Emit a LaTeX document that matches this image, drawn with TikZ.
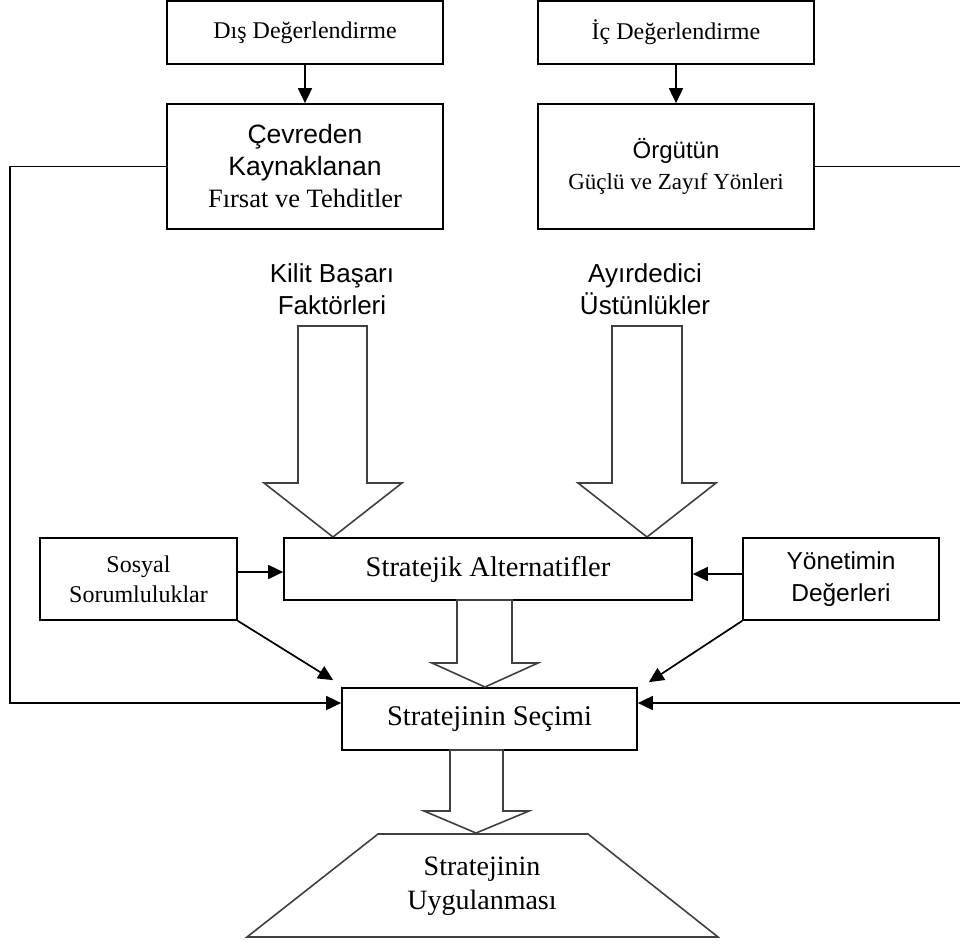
\documentclass[tikz,border=0pt]{standalone}
\usepackage{fontspec}
\setmainfont{Liberation Serif}
\setsansfont{Liberation Sans}
\usetikzlibrary{arrows.meta}

\begin{document}
\begin{tikzpicture}[x=1pt,y=-1pt,
  box/.style={draw,line width=1.7pt,inner sep=0pt,align=center},
  small/.style={font=\fontsize{24}{30}\selectfont},
  big/.style={font=\fontsize{28.5}{34}\selectfont},
  sans/.style={font=\sffamily\fontsize{26}{32}\selectfont},
  arr/.style={line width=1.7pt,-{Triangle[length=15pt,width=14pt]}},
  hollow/.style={line width=1.6pt,draw=black!75,line join=miter}]
\useasboundingbox (0,0) rectangle (960,945);
\clip (0,0) rectangle (960,945);
% ust kutular
\node[box,small,minimum width=276pt,minimum height=63pt] (dis) at (305,32.5) {Dış Değerlendirme};
\node[box,font=\fontsize{26.5}{32}\selectfont,minimum width=276pt,minimum height=125pt] (cevre) at (305,166.5) {\textsf{Çevreden}\\\textsf{Kaynaklanan}\\Fırsat ve Tehditler};
\node[box,small,minimum width=276pt,minimum height=63pt] (ic) at (676,32.5) {İç Değerlendirme};
\node[box,font=\fontsize{24}{31}\selectfont,minimum width=276pt,minimum height=125pt] (orgut) at (676,166.5) {\textsf{Örgütün}\\{\fontsize{23}{31}\selectfont Güçlü ve Zayıf Yönleri}};
\draw[arr] (dis)--(cevre);
\draw[arr] (ic)--(orgut);
% buyuk oklar
\node[sans,align=center] (kilit) at (332,289) {Kilit Başarı\\Faktörleri};
\node[sans,align=center] (ayir) at (645,289) {Ayırdedici\\Üstünlükler};
\draw[hollow] (298,326)--(367,326)--(367,483)--(402,483)--(333,537)--(264,483)--(298,483)--cycle;
\draw[hollow] (612,326)--(682,326)--(682,483)--(716,483)--(647,537)--(578,483)--(612,483)--cycle;
% orta
\node[box,big,minimum width=408pt,minimum height=62pt] (alt) at (488,569) {Stratejik Alternatifler};
\node[box,small,minimum width=197pt,minimum height=82pt] (sosyal) at (138.5,579) {Sosyal\\Sorumluluklar};
\node[box,sans,font=\sffamily\fontsize{24.5}{32}\selectfont,minimum width=196pt,minimum height=82pt] (yonetim) at (841,579) {Yönetimin\\Değerleri};
\node[box,big,minimum width=295pt,minimum height=62pt] (secim) at (489.5,719) {Stratejinin Seçimi};
\draw[arr] ([yshift=7pt]sosyal.east)--([yshift=-3pt]alt.west);
\draw[arr] ([yshift=5pt]yonetim.west)--([yshift=-5pt]alt.east);
\draw[arr] (sosyal.south east)--([xshift=-8pt,yshift=7pt]secim.north west);
\draw[arr] (yonetim.south west)--([xshift=11pt,yshift=5pt]secim.north east);
\draw[hollow] (457,600)--(512,600)--(512,663)--(538,663)--(485,687)--(432,663)--(457,663)--cycle;
% yan cizgiler
\coordinate (lt) at (10,166.5);
\coordinate (lb) at (10,703);
\coordinate (rt) at (963,166.5);
\coordinate (rb) at (963,703);
\draw[arr] (cevre.west)--(lt)--(lb)--([yshift=16pt]secim.west);
\draw[arr] (orgut.east)--(rt)--(rb)--([yshift=16pt]secim.east);
% alt
\draw[hollow] (450,750)--(503,750)--(503,811)--(529,811)--(476,833)--(424,811)--(450,811)--cycle;
\draw[hollow] (378,834)--(588,834)--(718,937)--(247,937)--cycle;
\node[big,align=center,font=\fontsize{28}{34}\selectfont] (uygula) at (482,886) {Stratejinin\\Uygulanması};
\end{tikzpicture}
\end{document}
